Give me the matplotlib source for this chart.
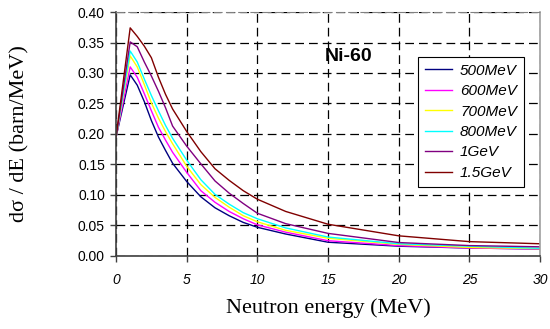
import matplotlib
matplotlib.use("Agg")
from matplotlib import pyplot as plt

energy = [0, 1, 1.5, 2, 2.5, 3, 3.5, 4, 5, 6, 7, 8, 9, 10, 12, 15, 20, 25, 30]

labels = ["500MeV", "600MeV", "700MeV", "800MeV", "1GeV", "1.5GeV"]
colors = ["#000080", "#FF00FF", "#FFFF00", "#00FFFF", "#800080", "#800000"]

xs_500 = [0.195, 0.297, 0.280, 0.253, 0.222, 0.195, 0.173, 0.152, 0.122, 0.097, 0.079, 0.066, 0.055, 0.047, 0.036, 0.0225, 0.016, 0.013, 0.0115]
xs_600 = [0.195, 0.310, 0.293, 0.266, 0.238, 0.211, 0.190, 0.170, 0.137, 0.107, 0.088, 0.073, 0.061, 0.051, 0.039, 0.025, 0.017, 0.013, 0.0115]
xs_700 = [0.195, 0.328, 0.310, 0.281, 0.251, 0.226, 0.204, 0.184, 0.147, 0.117, 0.096, 0.080, 0.066, 0.056, 0.042, 0.029, 0.019, 0.014, 0.012]
xs_800 = [0.195, 0.336, 0.318, 0.290, 0.263, 0.238, 0.214, 0.193, 0.157, 0.125, 0.101, 0.085, 0.071, 0.061, 0.046, 0.031, 0.020, 0.016, 0.0126]
xs_1g = [0.195, 0.351, 0.343, 0.318, 0.295, 0.270, 0.243, 0.213, 0.180, 0.151, 0.123, 0.103, 0.086, 0.070, 0.053, 0.037, 0.022, 0.017, 0.015]
xs_15g = [0.195, 0.374, 0.360, 0.344, 0.325, 0.293, 0.265, 0.241, 0.204, 0.171, 0.143, 0.124, 0.107, 0.093, 0.073, 0.052, 0.033, 0.0235, 0.020]

series = [xs_500, xs_600, xs_700, xs_800, xs_1g, xs_15g]

fig = plt.figure(figsize=(5.5, 3.29), dpi=100)
ax = fig.add_axes([0.211, 0.222, 0.771, 0.7415])

for ys, lab, col in zip(series, labels, colors):
    ax.plot(energy, ys, color=col, lw=1.0, label=lab)

ax.set_xlim(0, 30)
ax.set_ylim(0, 0.40)
ax.set_xticks(range(0, 31, 5))
ax.set_yticks([i * 0.05 for i in range(9)])
ax.set_yticklabels(["%.2f" % (i * 0.05) for i in range(9)],
                   fontfamily="Liberation Sans", fontsize=10)
ax.set_xticklabels([str(v) for v in range(0, 31, 5)],
                   fontfamily="Liberation Sans", fontsize=10, style="italic")

ax.grid(True, color="black", linestyle=(0, (7, 4)), lw=0.9)
ax.tick_params(direction="out", length=4, width=1, color="#404040")
ax.tick_params(axis="x", pad=8)
ax.tick_params(axis="y", pad=4)

for s in ["left", "bottom"]:
    ax.spines[s].set_color("#404040")
    ax.spines[s].set_linewidth(1.2)
ax.spines["right"].set_color("#a0a0a0")
ax.spines["right"].set_linewidth(1.2)
ax.spines["top"].set_color("#808080")
ax.spines["top"].set_linestyle((0, (7, 4)))

ax.set_xlabel("Neutron energy (MeV)", fontfamily="Liberation Serif", fontsize=16)
ax.set_ylabel("dσ / dE (barn/MeV)", fontfamily="Liberation Serif", fontsize=16)
ax.xaxis.set_label_coords(0.5, -0.175)
ax.yaxis.set_label_coords(-0.205, 0.5)

ax.text(14.8, 0.327, "Ni-60", fontfamily="Liberation Sans", fontweight="bold",
        fontsize=14, va="center", ha="left")

leg = ax.legend(loc="upper left", bbox_to_anchor=(0.712, 0.816),
                prop={"family": "Liberation Sans", "style": "italic", "size": 11},
                frameon=True, fancybox=False, edgecolor="black", framealpha=1,
                handlelength=1.8, borderpad=0.45, labelspacing=0.42,
                handletextpad=0.5, borderaxespad=0)
leg.get_frame().set_linewidth(0.8)

fig.savefig("out.png", dpi=100)
